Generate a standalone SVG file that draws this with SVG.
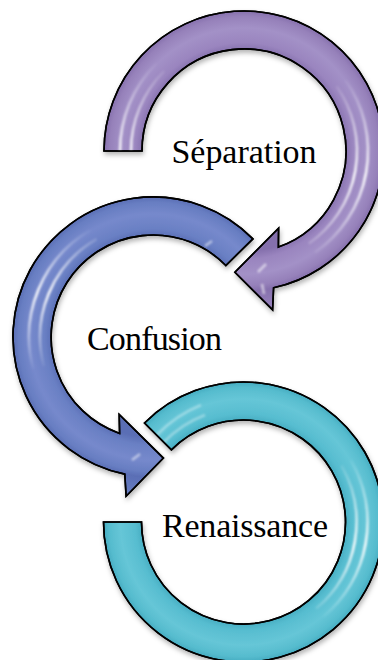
<svg xmlns="http://www.w3.org/2000/svg" xmlns:xlink="http://www.w3.org/1999/xlink" width="378" height="660" viewBox="0 0 378 660">
<style>
.ring{stroke:#000;stroke-width:1.6;stroke-linejoin:miter;filter:url(#shadow)}
.hl{fill:none;stroke-width:2.6;stroke-linecap:butt;filter:url(#soft)}
.lbl{font-family:"Liberation Serif","Times New Roman",serif;font-size:34px;fill:#000;text-anchor:middle}
</style>
<defs>
<filter id="shadow" x="-15%" y="-15%" width="140%" height="140%"><feDropShadow dx="1" dy="3" stdDeviation="2.5" flood-color="#000" flood-opacity="0.3"/></filter>
<filter id="soft" x="-20%" y="-20%" width="140%" height="140%"><feGaussianBlur stdDeviation="0.8"/></filter>
<radialGradient id="gP" gradientUnits="userSpaceOnUse" cx="244" cy="151" r="162">
<stop offset="0.62" stop-color="#8570ad"/><stop offset="0.67" stop-color="#9a85bf"/><stop offset="0.76" stop-color="#a391c7"/><stop offset="0.83" stop-color="#9681ba"/><stop offset="0.865" stop-color="#8670ad"/><stop offset="1" stop-color="#9a85bf"/>
</radialGradient>
<radialGradient id="gB" gradientUnits="userSpaceOnUse" cx="153" cy="337" r="162">
<stop offset="0.62" stop-color="#5a6eb5"/><stop offset="0.67" stop-color="#6a80c4"/><stop offset="0.76" stop-color="#7689cc"/><stop offset="0.83" stop-color="#687ec2"/><stop offset="0.865" stop-color="#5a6eb5"/><stop offset="1" stop-color="#6a80c4"/>
</radialGradient>
<radialGradient id="gT" gradientUnits="userSpaceOnUse" cx="243.5" cy="522" r="162">
<stop offset="0.62" stop-color="#45abc0"/><stop offset="0.67" stop-color="#57bdd0"/><stop offset="0.76" stop-color="#66c6d7"/><stop offset="0.83" stop-color="#56bcce"/><stop offset="0.865" stop-color="#46acc1"/><stop offset="1" stop-color="#57bdd0"/>
</radialGradient>
<linearGradient id="hP1" gradientUnits="userSpaceOnUse" x1="0" y1="75" x2="0" y2="260"><stop offset="0" stop-color="#fff" stop-opacity="0"/><stop offset="0.55" stop-color="#fff" stop-opacity="0.95"/><stop offset="1" stop-color="#fff" stop-opacity="0"/></linearGradient>
<linearGradient id="hP2" gradientUnits="userSpaceOnUse" x1="0" y1="60" x2="0" y2="151"><stop offset="0" stop-color="#fff" stop-opacity="0"/><stop offset="1" stop-color="#fff" stop-opacity="0.9"/></linearGradient>
<linearGradient id="hB" gradientUnits="userSpaceOnUse" x1="0" y1="228" x2="0" y2="372"><stop offset="0" stop-color="#fff" stop-opacity="0"/><stop offset="0.45" stop-color="#fff" stop-opacity="0.95"/><stop offset="1" stop-color="#fff" stop-opacity="0"/></linearGradient>
<linearGradient id="hT" gradientUnits="userSpaceOnUse" x1="0" y1="455" x2="0" y2="620"><stop offset="0" stop-color="#fff" stop-opacity="0"/><stop offset="0.55" stop-color="#fff" stop-opacity="0.95"/><stop offset="1" stop-color="#fff" stop-opacity="0"/></linearGradient>
<path id="pShape" d="M104,151 A140,140 0 1 1 273.6,287.8 L272.6,309.9 L234.9,272.2 L278.6,228.1 L278.4,247 A102,102 0 1 0 142,151 Z"/>
<path id="bShape" d="M252.9,238.9 A140,140 0 1 0 124.8,474.1 L126.1,496.2 L163.4,458.1 L119.2,414.4 L119.6,433.4 A102,102 0 1 1 225.8,265.5 Z"/>
<path id="tShape" d="M144.5,423 A140,140 0 1 1 103.5,522 L141.5,522 A102,102 0 1 0 171.4,449.9 Z"/>
<clipPath id="cP"><use xlink:href="#pShape"/></clipPath>
<clipPath id="cB"><use xlink:href="#bShape"/></clipPath>
<clipPath id="cT"><use xlink:href="#tShape"/></clipPath>
</defs>

<g id="node-renaissance">
<use xlink:href="#tShape" class="ring" fill="url(#gT)"/>
<g clip-path="url(#cT)">
<path class="hl" stroke="url(#hT)" d="M341.4,465.5 A113,113 0 0 1 316.1,608.6 M350.9,460 A124,124 0 0 1 323.2,617"/>
<path class="hl" stroke="#fff" stroke-opacity="0.35" d="M164,442 A113,113 0 0 1 205,415 M157,435 A124,124 0 0 1 201,405"/>
</g>
<use xlink:href="#tShape" fill="none" stroke="#000" stroke-width="1.6"/>
<text class="lbl" x="245" y="537" textLength="166" lengthAdjust="spacing">Renaissance</text>
</g>

<g id="node-confusion">
<use xlink:href="#bShape" class="ring" fill="url(#gB)"/>
<g clip-path="url(#cB)">
<path class="hl" stroke="url(#hB)" d="M43.9,366.2 A113,113 0 0 1 96.5,239.1 M33.2,369.1 A124,124 0 0 1 91,229.6"/>
<path class="hl" stroke="#fff" stroke-opacity="0.5" d="M205,246 l7,-5 M132,460 l8,-6"/>
</g>
<use xlink:href="#bShape" fill="none" stroke="#000" stroke-width="1.6"/>
<text class="lbl" x="154.5" y="350" textLength="135" lengthAdjust="spacing">Confusion</text>
</g>

<g id="node-separation">
<use xlink:href="#pShape" class="ring" fill="url(#gP)"/>
<g clip-path="url(#cP)">
<path class="hl" stroke="url(#hP1)" d="M336.6,86.2 A113,113 0 0 1 308.8,243.6 M345.6,79.9 A124,124 0 0 1 315.1,252.6"/>
<path class="hl" stroke="url(#hP2)" d="M131,151 A113,113 0 0 1 164.1,71.1 M120,151 A124,124 0 0 1 156.3,63.3"/>
<path class="hl" stroke="#fff" stroke-opacity="0.55" d="M258,272 l8,-8 M262,284 l2,10"/>
</g>
<use xlink:href="#pShape" fill="none" stroke="#000" stroke-width="1.6"/>
<text class="lbl" x="244" y="163" textLength="145" lengthAdjust="spacing">Séparation</text>
</g>
</svg>
